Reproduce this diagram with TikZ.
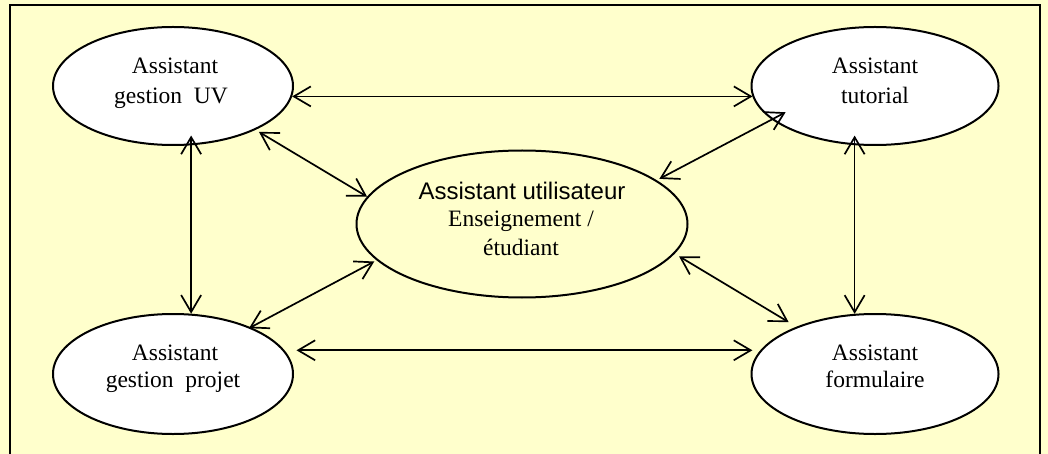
\documentclass[tikz,border=0pt]{standalone}
\usepackage{fontspec}
\setmainfont{Liberation Serif}
\newfontfamily\arialfont{Liberation Sans}
\usetikzlibrary{arrows.meta,shapes.geometric}
\definecolor{bgyellow}{HTML}{FFFFCC}
\begin{document}
\begin{tikzpicture}[x=1pt,y=-1pt,
  ell/.style={ellipse,draw,line width=2pt,fill=white,inner sep=0pt},
  lbl/.style={anchor=base,inner sep=0pt,font=\fontsize{23.5}{28}\selectfont},
  barb/.tip={Straight Barb[length=17pt,width=20pt]},
  link/.style={line width=1.7pt,barb-barb}]
\useasboundingbox (0,0) rectangle (1048,454);
\fill[bgyellow] (0,0) rectangle (1048,454);
\begin{scope}
  \clip (0,0) rectangle (1048,454);
  \draw[line width=2pt] (10,5) rectangle (1040,480);
\end{scope}
% ellipses
\node[ell,minimum width=240pt,minimum height=118pt] (uv) at (173,86) {};
\node[ell,minimum width=247pt,minimum height=118pt] (tut) at (875,86) {};
\node[ell,minimum width=240pt,minimum height=120pt] (prj) at (173,374) {};
\node[ell,minimum width=247pt,minimum height=120pt] (frm) at (875,374) {};
\node[ell,fill=bgyellow,minimum width=331pt,minimum height=147pt] (ctr) at (522,224) {};
% labels
\node[lbl] (uvA) at (175,74) {Assistant};
\node[lbl] (uvB) at (171,104) {gestion\ \ UV};
\node[lbl] (tutA) at (875,74) {Assistant};
\node[lbl] (tutB) at (875,104) {tutorial};
\node[lbl] (prjA) at (175,360) {Assistant};
\node[lbl] (prjB) at (173,387) {gestion\ \ projet};
\node[lbl] (frmA) at (875,360) {Assistant};
\node[lbl] (frmB) at (875,387) {formulaire};
\node[lbl,font=\arialfont\fontsize{24}{28}\selectfont] (ctrA) at (522,200) {Assistant utilisateur};
\node[lbl] (ctrB) at (521,226) {Enseignement /};
\node[lbl] (ctrC) at (521,255) {étudiant};
% connectors
\draw[link] (uv.-5.8) -- (tut.185.6 |- uv.-5.8);
\draw[link,shorten <=4pt] (uv.-28.3) -- (ctr.170.5);
\draw[link,shorten <=3pt,shorten >=-15.6pt] (ctr.18.65) -- (tut.198.45);
\draw[link,shorten <=2.6pt,shorten >=-2pt] (ctr.194.8) -- (prj.31.7);
\draw[link,shorten <=5pt,shorten >=9pt] (ctr.-11.8) -- (frm.149.9);
\draw[link,shorten <=12pt,shorten >=10pt] (prj.12.8) -- (frm.167.5 |- prj.12.8);
\draw[link,shorten <=-9.8pt] (uv.-73) -- (uv.-73 |- prj.73.25);
\draw[link,shorten <=-9.6pt] (tut.-109.7) -- (tut.-109.7 |- frm.109.4);
\end{tikzpicture}
\end{document}
